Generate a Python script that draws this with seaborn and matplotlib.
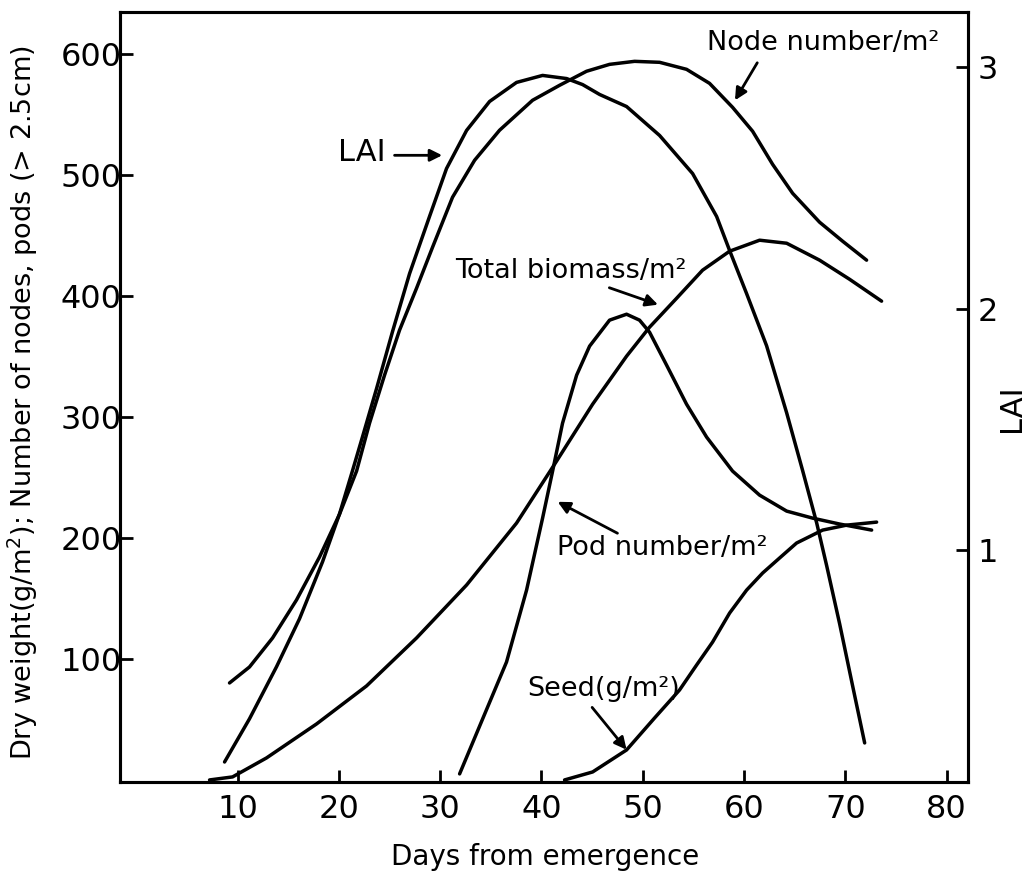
import matplotlib
matplotlib.use("Agg")
import matplotlib.pyplot as plt
import seaborn as sns
import pandas as pd

# ---- data ----
lai_days = [8.72, 11.18, 13.85, 16.12, 18.39, 20.07, 21.35, 22.34, 23.72, 25.30, 26.98,
            28.95, 30.63, 32.61, 34.88, 37.54, 40.11, 42.48, 44.06, 45.74, 48.40, 51.66,
            54.92, 57.29, 58.57, 60.25, 62.22, 64.20, 65.78, 67.16, 68.15, 69.43, 70.71, 71.90]
lai_vals = [0.120, 0.299, 0.515, 0.714, 0.950, 1.149, 1.328, 1.469, 1.668, 1.905, 2.145,
            2.382, 2.581, 2.739, 2.859, 2.938, 2.967, 2.954, 2.929, 2.888, 2.838, 2.718,
            2.560, 2.382, 2.241, 2.062, 1.846, 1.568, 1.328, 1.112, 0.934, 0.693, 0.436, 0.199]

node_days = [9.21, 11.18, 13.46, 15.82, 18.09, 20.07, 21.75, 23.03, 24.51, 25.99, 27.67,
             29.25, 31.22, 33.40, 35.86, 39.12, 41.79, 44.45, 46.72, 49.19, 51.66, 54.32,
             56.59, 58.86, 60.84, 62.81, 64.79, 67.45, 69.72, 72.09]
node_vals = [80.2, 93.4, 117.4, 148.8, 184.3, 219.8, 255.4, 295.0, 334.7, 371.9, 406.6,
             440.5, 481.8, 512.4, 537.2, 562.0, 574.4, 586.0, 591.7, 594.2, 593.4, 587.6,
             576.0, 556.2, 536.4, 509.1, 485.1, 461.2, 445.5, 429.8]

bio_days = [7.24, 9.51, 12.86, 17.80, 22.73, 27.67, 32.61, 37.54, 41.49, 45.05, 48.40,
            50.67, 53.34, 55.90, 58.57, 61.53, 64.20, 67.45, 70.41, 73.57]
bio_vals = [0.0, 2.5, 18.2, 46.3, 77.7, 117.4, 161.2, 212.4, 263.6, 310.7, 350.4,
            374.4, 398.3, 421.5, 437.2, 446.3, 443.8, 429.8, 414.0, 395.9]

pod_days = [31.92, 34.19, 36.55, 38.53, 40.11, 41.10, 42.08, 43.47, 44.75, 46.72, 48.40,
            49.68, 50.67, 52.35, 54.32, 56.30, 58.86, 61.53, 64.20, 66.76, 69.43, 72.59]
pod_vals = [5.0, 50.4, 97.5, 157.0, 216.5, 255.4, 295.0, 334.7, 358.7, 380.2, 385.1,
            380.2, 370.2, 343.0, 310.7, 283.5, 255.4, 235.5, 222.3, 216.5, 211.6, 206.6]

seed_days = [42.28, 45.05, 48.40, 51.16, 53.63, 55.31, 56.89, 58.57, 60.25, 61.83, 63.50,
             65.18, 67.75, 70.12, 73.08]
seed_vals = [0.0, 6.6, 24.8, 51.2, 74.4, 95.0, 114.0, 138.0, 157.0, 171.1, 183.5,
             195.9, 206.6, 210.7, 213.2]

x_ticks = [10, 20, 30, 40, 50, 60, 70, 80]
y_ticks = [100, 200, 300, 400, 500, 600]
lai_ticks = [1, 2, 3]

# ---- figure ----
sns.set_style("ticks")
plt.rcParams['font.family'] = ['DejaVu Sans']
plt.rcParams['text.color'] = 'black'
plt.rcParams['axes.labelcolor'] = 'black'

fig = plt.figure(figsize=(10.33, 8.77), dpi=100)
ax = fig.add_axes([120/1033, 1-782/877, 848/1033, 770/877])
ax2 = ax.twinx()

lw = 2.5
def draw(a, d, v):
    df = pd.DataFrame({"day": d, "val": v})
    sns.lineplot(data=df, x="day", y="val", ax=a, color="black", linewidth=lw,
                 sort=False, estimator=None, solid_capstyle="round",
                 solid_joinstyle="round")

draw(ax, node_days, node_vals)
draw(ax, bio_days, bio_vals)
draw(ax, pod_days, pod_vals)
draw(ax, seed_days, seed_vals)
draw(ax2, lai_days, lai_vals)

ax.set_xlim(-1.6, 82.1)
ax.set_ylim(-1.7, 635)
ax2.set_ylim(0.037, 3.23)

ax.set_xticks(x_ticks)
ax.set_yticks(y_ticks)
ax2.set_yticks(lai_ticks)

tick_fs = 23
ax.tick_params(axis="both", direction="in", length=9, width=2, labelsize=tick_fs,
               colors="black")
ax.tick_params(axis="y", pad=-1)
ax.tick_params(axis="x", pad=9)
ax2.tick_params(axis="y", direction="in", length=9, width=2, labelsize=tick_fs, pad=7,
                colors="black")

for a in (ax, ax2):
    for s in a.spines.values():
        s.set_linewidth(2.2)
        s.set_color("black")
        s.set_visible(True)

ax.set_xlabel("Days from emergence", fontsize=20, color="black")
ax.xaxis.set_label_coords(0.501, -0.079)
ax.set_ylabel("Dry weight(g/m$^2$); Number of nodes, pods (> 2.5cm)", fontsize=19.5,
              color="black")
ax.yaxis.set_label_coords(-0.094, 0.493)
ax2.set_ylabel("LAI", fontsize=22, color="black")
ax2.yaxis.set_label_coords(1.034, 0.486)

ap = dict(arrowstyle="-|>", color="black", lw=2, mutation_scale=18, shrinkA=0, shrinkB=0)
ann_fs = 19.5
ax.annotate("", xy=(59.1, 562), xytext=(61.3, 593), arrowprops=ap)
ax.text(67.8, 609, "Node number/m²", fontsize=ann_fs, ha="center", va="center",
        color="black")

ax.annotate("", xy=(30.2, 516.5), xytext=(25.5, 516.5), arrowprops=ap)
ax.text(22.3, 519, "LAI", fontsize=22, ha="center", va="center", color="black")

ax.annotate("", xy=(51.5, 393), xytext=(46.7, 407), arrowprops=ap)
ax.text(42.9, 421, "Total biomass/m²", fontsize=ann_fs, ha="center", va="center",
        color="black")

ax.annotate("", xy=(41.6, 230), xytext=(47.5, 204), arrowprops=ap)
ax.text(51.9, 192, "Pod number/m²", fontsize=ann_fs, ha="center", va="center",
        color="black")

ax.annotate("", xy=(48.4, 25), xytext=(45.0, 60), arrowprops=ap)
ax.text(46.1, 75, "Seed(g/m²)", fontsize=ann_fs, ha="center", va="center",
        color="black")

fig.savefig("out.png", dpi=100, facecolor="white")
